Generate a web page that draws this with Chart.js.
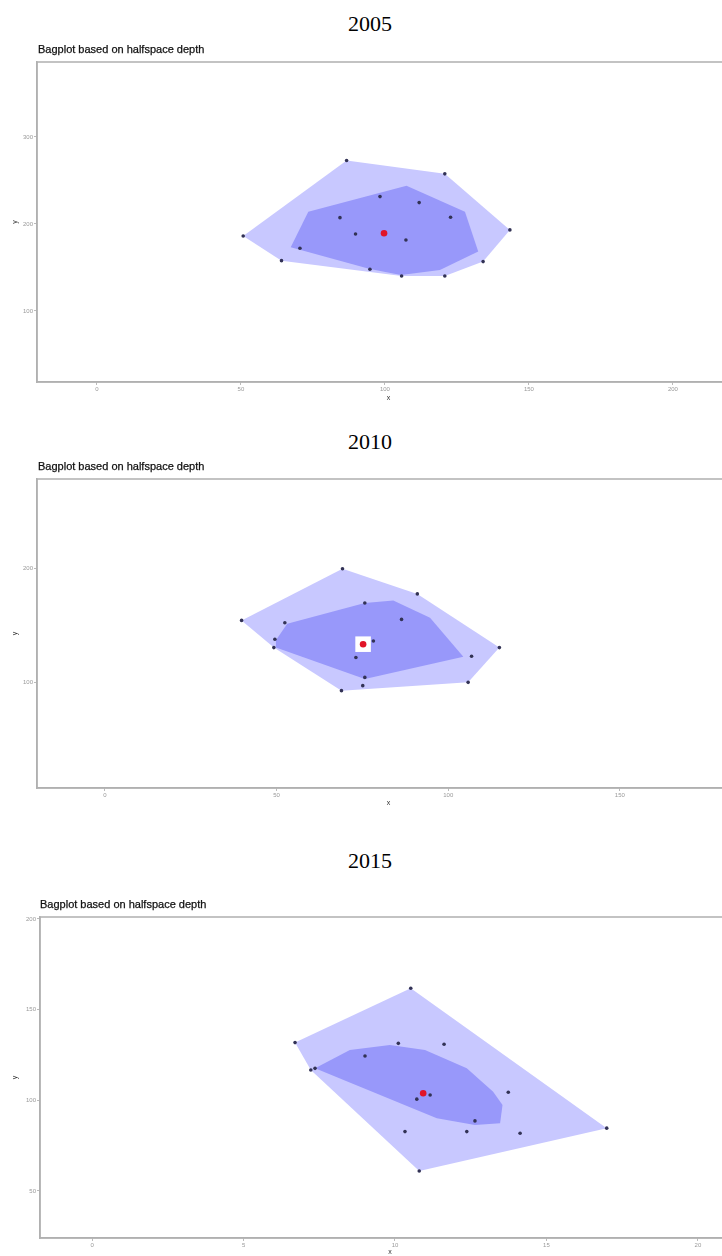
<!DOCTYPE html>
<html>
<head>
<meta charset="utf-8">
<script src="https://cdn.jsdelivr.net/npm/chart.js@4"></script>
<style>
  body { margin: 0; width: 722px; height: 1256px; overflow: hidden; background: #fff; position: relative; }
  .year { position: absolute; left: 0; width: 740px; text-align: center; font-family: "Liberation Serif", "Times New Roman", serif; font-size: 22px; color: #000; }
  .sub { position: absolute; font-family: "Liberation Sans", Arial, sans-serif; font-size: 11px; color: #111; filter: blur(0.35px); -webkit-text-stroke: 0.25px #111; }
  canvas { position: absolute; left: 0; }
</style>
</head>
<body>
<div class="year" style="top:11px">2005</div>
<div class="sub" style="left:38px;top:43px">Bagplot based on halfspace depth</div>
<canvas id="c2005" width="760" height="356" style="top:56px"></canvas>

<div class="year" style="top:429px">2010</div>
<div class="sub" style="left:38px;top:460px">Bagplot based on halfspace depth</div>
<canvas id="c2010" width="760" height="345" style="top:473px"></canvas>

<div class="year" style="top:848px">2015</div>
<div class="sub" style="left:40px;top:898px">Bagplot based on halfspace depth</div>
<canvas id="c2015" width="760" height="345" style="top:911px"></canvas>

<script>
// 2005 panel data
const pts2005X = [86.7, 120.8, 98.3, 111.9, 84.4, 122.8, 143.4, 50.8, 89.8, 107.3, 70.5, 64.1, 134.1, 94.8, 105.8, 120.8];
const pts2005Y = [272.8, 257.5, 231.4, 224.5, 207.2, 207.7, 193.1, 186.2, 188.5, 181.6, 172.1, 157.8, 156.7, 147.9, 140.2, 140.2];
const loop2005X = [50.8, 86.7, 120.8, 143.4, 134.1, 120.8, 105.8, 64.1];
const loop2005Y = [186.2, 272.8, 257.5, 193.1, 156.7, 140.2, 140.2, 157.8];
const bag2005X = [67.3, 73.4, 107.5, 127.8, 132.4, 119.1, 105.6, 94.8];
const bag2005Y = [173.2, 214.1, 243.7, 214.1, 168.2, 147.1, 141.4, 148.3];
const median2005 = [99.7, 189.3];
const xTicks2005 = [0, 50, 100, 150, 200];
const yTicks2005 = [100, 200, 300];

// 2010 panel data
const pts2010X = [69.2, 91.0, 75.7, 86.4, 39.8, 52.4, 49.5, 78.2, 49.2, 114.9, 73.1, 106.8, 75.7, 75.1, 105.8, 68.9];
const pts2010Y = [199.7, 177.7, 169.8, 155.4, 154.5, 152.4, 138.0, 136.5, 130.7, 130.7, 122.0, 123.2, 104.6, 97.4, 100.3, 93.0];
const loop2010X = [39.8, 69.2, 91.0, 114.9, 105.8, 68.9, 49.2];
const loop2010Y = [154.5, 199.7, 177.7, 130.7, 100.3, 93.0, 130.7];
const bag2010X = [49.8, 53.1, 75.7, 84.0, 94.7, 104.4, 75.7, 49.8];
const bag2010Y = [137.1, 151.6, 169.8, 171.9, 156.8, 122.6, 103.2, 130.7];
const median2010 = [75.2, 133.7];
const xTicks2010 = [0, 50, 100, 150];
const yTicks2010 = [100, 200];

// 2015 panel data
const pts2015X = [10.52, 6.70, 10.11, 11.62, 9.01, 7.36, 7.22, 13.74, 10.72, 11.16, 12.64, 10.33, 12.37, 14.13, 16.99, 10.80];
const pts2015Y = [161.8, 131.8, 131.4, 130.9, 124.4, 117.6, 116.7, 104.4, 100.6, 102.9, 88.6, 82.7, 82.7, 81.8, 84.6, 61.0];
const loop2015X = [6.70, 10.52, 16.99, 10.80, 7.22];
const loop2015Y = [131.8, 161.8, 84.6, 61.0, 116.7];
const bag2015X = [7.36, 8.51, 9.83, 10.99, 12.37, 13.24, 13.55, 13.47, 12.64, 11.38];
const bag2015Y = [117.6, 127.7, 130.5, 127.7, 117.6, 104.7, 97.4, 87.3, 86.4, 90.1];
const median2015 = [10.93, 103.9];
const xTicks2015 = [0, 5, 10, 15, 20];
const yTicks2015 = [50, 100, 150, 200];

function toXY(xs, ys) {
    return xs.map((v, i) => ({x: v, y: ys[i]}));
}

const framePlugin = {
    id: 'frame',
    beforeDatasetsDraw(chart) {
        const a = chart.chartArea;
        const ctx = chart.ctx;
        ctx.save();
        ctx.strokeStyle = '#b0b0b0';
        ctx.lineWidth = 1.5;
        ctx.strokeRect(a.left, a.top, a.right - a.left, a.bottom - a.top);
        ctx.restore();
    }
};

function makePanel(id, p) {
    const datasets = [
        {   // red Tukey median
            data: [{x: p.median[0], y: p.median[1]}],
            pointRadius: 3.3, pointBackgroundColor: 'rgb(225,20,40)', pointBorderWidth: 0,
            showLine: false, order: 1
        },
        {   // observations
            data: toXY(p.ptsX, p.ptsY),
            pointRadius: 1.8, pointBackgroundColor: 'rgb(50,50,85)', pointBorderWidth: 0,
            showLine: false, order: 3
        },
        {   // bag
            data: toXY(p.bagX, p.bagY),
            showLine: true, fill: 'shape', tension: 0,
            backgroundColor: 'rgb(152,152,250)', borderWidth: 0, pointRadius: 0, order: 4
        },
        {   // loop (fence hull)
            data: toXY(p.loopX, p.loopY),
            showLine: true, fill: 'shape', tension: 0,
            backgroundColor: 'rgb(200,200,255)', borderWidth: 0, pointRadius: 0, order: 5
        }
    ];
    if (p.whiteBox) {
        datasets.push({
            data: [{x: p.median[0], y: p.median[1]}],
            pointStyle: 'rect', pointRadius: 11, pointBackgroundColor: '#fff', pointBorderWidth: 0,
            showLine: false, order: 2
        });
    }
    new Chart(document.getElementById(id), {
        type: 'scatter',
        data: {datasets},
        options: {
            responsive: false,
            animation: false,
            layout: {autoPadding: false, padding: {top: 6, right: 20, left: 0, bottom: 0}},
            plugins: {legend: {display: false}, tooltip: {enabled: false}},
            scales: {
                x: {
                    type: 'linear', min: p.xMin, max: p.xMax,
                    afterBuildTicks: s => { s.ticks = p.xTicks.map(v => ({value: v})); },
                    afterFit: s => { s.height = p.xH; },
                    ticks: {font: {size: 6}, color: '#999', padding: 1, maxRotation: 0, autoSkip: false},
                    grid: {drawOnChartArea: false, tickLength: 3, color: '#bbb'},
                    border: {color: '#b0b0b0', width: 1.5},
                    title: {display: true, text: 'x', font: {size: 7}, color: '#333', padding: {top: 0, bottom: p.xTitlePad}}
                },
                y: {
                    type: 'linear', min: p.yMin, max: p.yMax,
                    afterBuildTicks: s => { s.ticks = p.yTicks.map(v => ({value: v})); },
                    afterFit: s => { s.width = p.yW; },
                    ticks: {font: {size: 6}, color: '#999', padding: 1, autoSkip: false},
                    grid: {drawOnChartArea: false, tickLength: 3, color: '#bbb'},
                    border: {color: '#b0b0b0', width: 1.5},
                    title: {display: true, text: 'y', font: {size: 7}, color: '#333', padding: {top: 11, bottom: 0}}
                }
            }
        },
        plugins: [framePlugin]
    });
}

makePanel('c2005', {
    ptsX: pts2005X, ptsY: pts2005Y, loopX: loop2005X, loopY: loop2005Y,
    bagX: bag2005X, bagY: bag2005Y, median: median2005,
    xTicks: xTicks2005, yTicks: yTicks2005,
    xMin: -20.8, xMax: 223.3, yMin: 18.4, yMax: 386,
    xH: 30, yW: 37, xTitlePad: 10, whiteBox: false
});
makePanel('c2010', {
    ptsX: pts2010X, ptsY: pts2010Y, loopX: loop2010X, loopY: loop2010Y,
    bagX: bag2010X, bagY: bag2010Y, median: median2010,
    xTicks: xTicks2010, yTicks: yTicks2010,
    xMin: -19.8, xMax: 185.0, yMin: 7.8, yMax: 278.3,
    xH: 30, yW: 37, xTitlePad: 11, whiteBox: true
});
makePanel('c2015', {
    ptsX: pts2015X, ptsY: pts2015Y, loopX: loop2015X, loopY: loop2015Y,
    bagX: bag2015X, bagY: bag2015Y, median: median2015,
    xTicks: xTicks2015, yTicks: yTicks2015,
    xMin: -1.72, xMax: 21.39, yMin: 24.0, yMax: 201.1,
    xH: 18, yW: 40, xTitlePad: 0, whiteBox: false
});
</script>
</body>
</html>
